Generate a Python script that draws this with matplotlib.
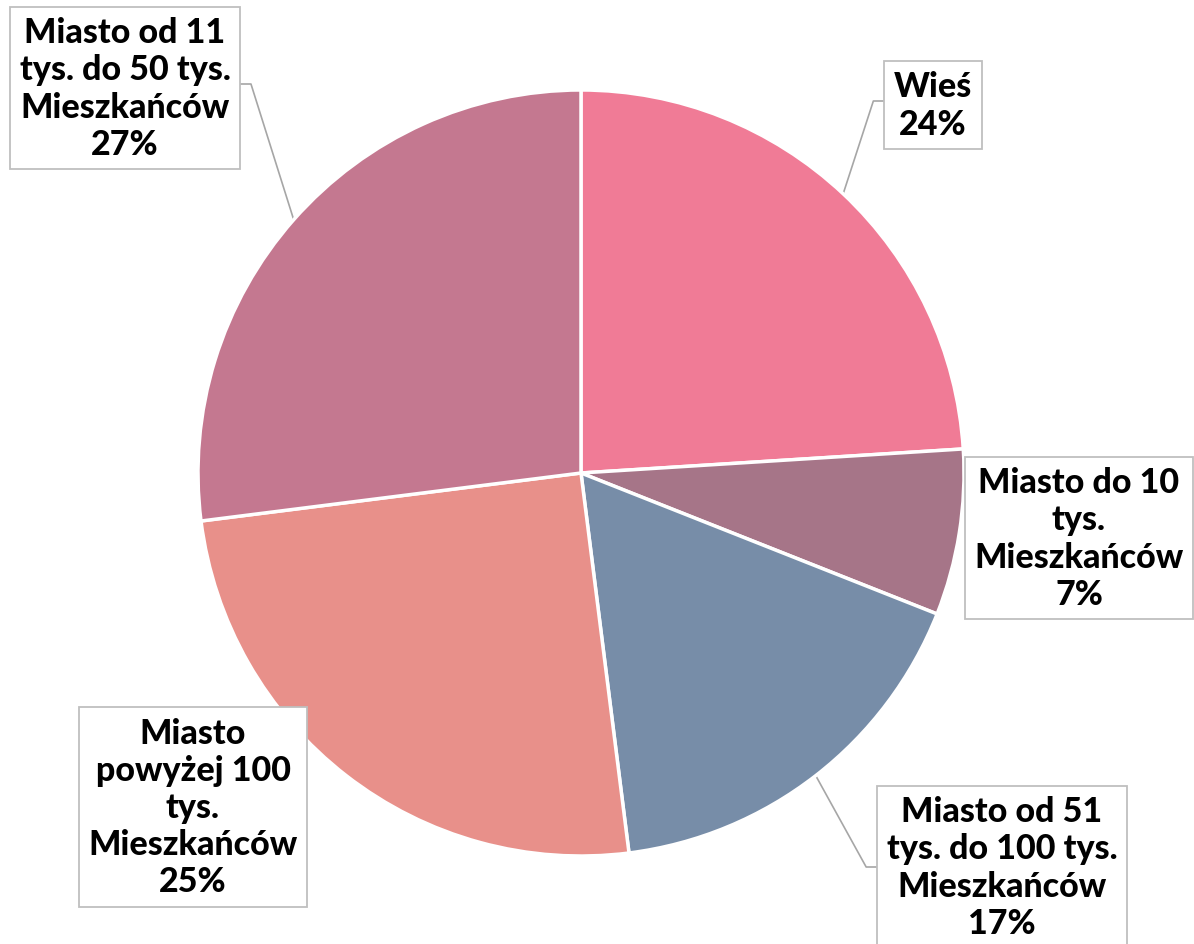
import matplotlib
matplotlib.use("Agg")
import matplotlib.pyplot as plt
import numpy as np

categories = ["Wieś", "Miasto do 10\ntys.\nMieszkańców",
              "Miasto od 51\ntys. do 100 tys.\nMieszkańców",
              "Miasto\npowyżej 100\ntys.\nMieszkańców",
              "Miasto od 11\ntys. do 50 tys.\nMieszkańców"]
values = [24, 7, 17, 25, 27]
colors = ["#F07B96", "#A67588", "#778DA8", "#E8908A", "#C47890"]

# label text centres (pixel coords in a 1194x945 image) and leader flags
label_px = [(933, 106), (1079, 539), (1002, 868), (193, 808), (125, 89)]
leader = [True, False, True, False, True]

W, H = 1194, 945
cx, cy, R = 581, 474, 383
fig = plt.figure(figsize=(W / 100, H / 100), dpi=100)
ax = fig.add_axes([(cx - R) / W, (H - cy - R) / H, 2 * R / W, 2 * R / H])
wedges, _ = ax.pie(values, colors=colors, startangle=90, counterclock=False,
                   wedgeprops=dict(edgecolor="white", linewidth=2.5))
ax.set_xlim(-1, 1)
ax.set_ylim(-1, 1)
ax.set_aspect("equal")
ax.axis("off")

font = dict(family=["Lato", "DejaVu Sans"], weight=900, size=24.5)
for w, cat, v, (px, py), ld in zip(wedges, categories, values, label_px, leader):
    tx, ty = (px - cx) / R, (cy - py) / R
    t = ax.text(tx, ty, f"{cat}\n{v}%", ha="center", va="center",
                multialignment="center", linespacing=1.2, clip_on=False,
                bbox=dict(boxstyle="square,pad=0.28", facecolor="white",
                          edgecolor="#BFBFBF", linewidth=1.3), **font)
    if ld:
        mid = np.deg2rad((w.theta1 + w.theta2) / 2)
        ex, ey = np.cos(mid), np.sin(mid)
        fig.canvas.draw()
        bb = t.get_bbox_patch().get_window_extent()
        inv = ax.transData.inverted()
        if ex > 0:
            side = inv.transform((bb.x0, 0))[0]
            elbow = side - 11 / R
        else:
            side = inv.transform((bb.x1, 0))[0]
            elbow = side + 11 / R
        yy = ty if ey < 0 else ty + 4 / R
        ax.plot([ex, elbow, side], [ey, yy, yy], color="#A6A6A6", lw=1.2,
                clip_on=False, zorder=0)

fig.savefig("out.png", dpi=100)
